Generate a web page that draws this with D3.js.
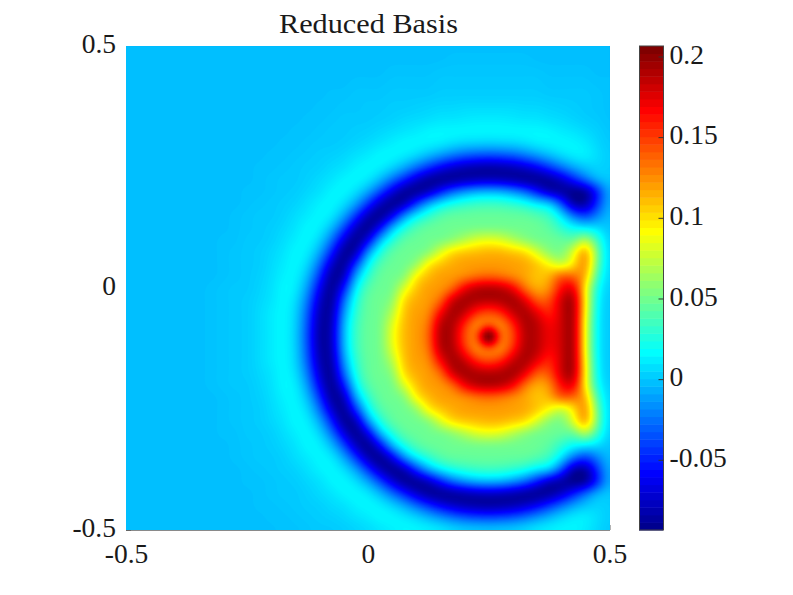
<!DOCTYPE html>
<html><head><meta charset="utf-8">
<script src="https://cdn.jsdelivr.net/npm/d3@7"></script>
<style>html,body{margin:0;padding:0;background:#fff}svg{display:block}</style>
</head><body><svg id="c" width="793" height="595"></svg>
<script>
const titleText = "Reduced Basis";
const xTicks = [-0.5, 0, 0.5];
const yTicks = [-0.5, 0, 0.5];
const barTicks = [-0.05, 0, 0.05, 0.1, 0.15, 0.2];
const valueRange = [-0.0935, 0.2065];
const backgroundReading = -0.003;
// Field values, in thousandths, on a 41 x 41 grid (top row first)
const heatRows = [
[0,0,0,0,0,0,0,0,0,0,0,0,0,0,0,0,0,0,0,0,0,0,0,0,0,0,0,0,0,0,0,0,0,0,0,0,0,0,0,0,0],
[0,0,0,0,0,0,0,0,0,0,0,0,0,0,0,0,0,0,0,0,0,0,0,0,0,0,0,1,1,1,1,1,1,1,0,0,0,0,0,0,0],
[0,0,0,0,0,0,0,0,0,0,0,0,0,0,0,0,0,0,0,0,0,0,1,1,1,1,2,2,2,2,2,2,2,2,2,1,1,1,1,0,0],
[0,0,0,0,0,0,0,0,0,0,0,0,0,0,0,0,0,0,0,1,1,1,2,2,2,2,3,3,3,3,3,3,3,3,3,2,2,2,2,1,1],
[0,0,0,0,0,0,0,0,0,0,0,0,0,0,0,0,0,1,1,2,2,2,3,3,3,3,4,4,4,4,4,4,4,4,4,3,3,3,3,2,1],
[0,0,0,0,0,0,0,0,0,0,0,0,0,0,0,0,1,1,2,2,3,3,4,4,5,6,7,7,8,8,8,8,8,7,7,6,5,4,3,2,1],
[0,0,0,0,0,0,0,0,0,0,0,0,0,0,0,1,1,2,3,3,3,4,5,7,8,9,11,11,12,13,13,13,12,11,11,9,8,6,4,3,1],
[0,0,0,0,0,0,0,0,0,0,0,0,0,0,1,1,2,3,3,4,5,7,9,11,13,16,17,17,17,17,17,17,17,17,17,16,13,11,8,5,2],
[0,0,0,0,0,0,0,0,0,0,0,0,0,1,1,2,3,3,4,6,8,11,14,17,17,16,14,10,7,6,5,6,7,10,14,16,17,16,13,7,3],
[0,0,0,0,0,0,0,0,0,0,0,0,1,1,2,3,4,5,7,10,13,17,17,14,8,-1,-11,-21,-29,-33,-35,-33,-29,-21,-11,-1,8,14,15,9,4],
[0,0,0,0,0,0,0,0,0,0,0,1,1,2,3,4,5,8,10,15,17,15,7,-6,-24,-42,-59,-71,-79,-83,-85,-83,-79,-71,-59,-42,-24,-8,2,6,4],
[0,0,0,0,0,0,0,0,0,0,0,1,2,3,3,5,8,11,16,17,13,-1,-23,-47,-71,-87,-91,-89,-84,-80,-78,-80,-84,-89,-91,-87,-73,-50,-25,-3,3],
[0,0,0,0,0,0,0,0,0,0,1,1,2,3,4,7,10,16,17,10,-7,-35,-66,-88,-90,-78,-52,-28,-14,-5,-3,-5,-14,-28,-52,-78,-86,-93,-88,-48,-3],
[0,0,0,0,0,0,0,0,0,0,1,2,3,4,6,10,15,17,10,-9,-42,-76,-91,-80,-42,-8,13,25,31,35,36,35,31,25,13,5,-33,-82,-85,-42,-3],
[0,0,0,0,0,0,0,0,0,1,2,3,3,5,9,13,17,13,-7,-42,-79,-91,-64,-16,14,31,43,48,49,50,50,50,49,48,43,35,12,-22,-38,-18,0],
[0,0,0,0,0,0,0,0,0,1,2,3,4,7,11,17,15,-1,-35,-75,-91,-58,-5,25,42,49,51,52,52,53,53,53,52,52,51,46,32,20,14,9,1],
[0,0,0,0,0,0,0,0,1,1,3,3,5,9,14,17,7,-23,-66,-91,-64,-5,27,46,50,52,53,60,72,84,88,84,72,60,53,52,50,48,72,36,3],
[0,0,0,0,0,0,0,0,1,2,3,4,7,11,17,14,-6,-47,-88,-80,-16,25,46,51,52,58,84,105,112,115,118,117,112,105,82,60,55,85,125,52,4],
[0,0,0,0,0,0,0,0,1,2,3,4,8,13,17,8,-24,-71,-90,-42,14,42,50,52,62,98,112,120,124,125,125,125,124,121,112,95,78,100,130,50,5],
[0,0,0,0,0,0,0,0,1,2,3,5,9,15,16,-1,-42,-87,-78,-8,31,49,52,58,98,115,124,125,129,136,140,136,129,122,112,118,145,140,118,38,5],
[0,0,0,0,0,0,0,1,2,3,3,6,10,17,14,-11,-59,-91,-52,13,43,51,53,84,112,124,126,140,175,192,196,192,175,138,120,128,168,178,98,25,4],
[0,0,0,0,0,0,0,1,2,3,4,7,11,17,10,-21,-71,-89,-28,25,48,52,60,105,120,125,140,186,200,196,194,196,200,180,145,148,185,198,98,20,3],
[0,0,0,0,0,0,0,1,2,3,4,8,13,17,7,-29,-79,-84,-14,31,49,52,72,112,124,129,170,200,188,160,150,160,188,198,178,160,185,200,95,18,3],
[0,0,0,0,0,0,0,1,2,3,4,8,13,17,6,-33,-83,-80,-5,35,50,53,84,115,125,136,192,196,160,128,140,128,160,196,192,172,185,200,90,17,3],
[0,0,0,0,0,0,0,1,2,3,4,8,13,17,5,-35,-85,-78,-3,36,50,53,88,116,125,140,196,194,150,140,250,140,150,194,192,175,185,200,90,17,3],
[0,0,0,0,0,0,0,1,2,3,4,8,13,17,6,-33,-83,-80,-5,35,50,53,84,115,125,136,192,196,160,128,140,128,160,196,192,172,185,200,90,17,3],
[0,0,0,0,0,0,0,1,2,3,4,8,13,17,7,-29,-79,-84,-14,31,49,52,72,112,124,129,170,200,188,160,150,160,188,198,178,160,185,200,95,18,3],
[0,0,0,0,0,0,0,1,2,3,4,7,11,17,10,-21,-71,-89,-28,25,48,52,60,105,120,125,140,186,200,196,194,196,200,180,145,148,185,198,98,20,3],
[0,0,0,0,0,0,0,1,2,3,3,6,10,17,14,-11,-59,-91,-52,13,43,51,53,84,112,124,126,140,175,192,196,192,175,138,120,128,168,178,98,25,4],
[0,0,0,0,0,0,0,0,1,2,3,5,9,15,16,-1,-42,-87,-78,-8,31,49,52,58,98,115,124,125,129,136,140,136,129,122,112,118,145,140,118,38,5],
[0,0,0,0,0,0,0,0,1,2,3,4,8,13,17,8,-24,-71,-90,-42,14,42,50,52,62,98,112,120,124,125,125,125,124,121,112,95,78,100,130,50,5],
[0,0,0,0,0,0,0,0,1,2,3,4,7,11,17,14,-6,-47,-88,-80,-16,25,46,51,52,58,84,105,112,115,118,117,112,105,82,60,55,85,125,52,4],
[0,0,0,0,0,0,0,0,1,1,3,3,5,9,14,17,7,-23,-66,-91,-64,-5,27,46,50,52,53,60,72,84,88,84,72,60,53,52,50,48,72,36,3],
[0,0,0,0,0,0,0,0,0,1,2,3,4,7,11,17,15,-1,-35,-75,-91,-58,-5,25,42,49,51,52,52,53,53,53,52,52,51,46,32,20,14,9,1],
[0,0,0,0,0,0,0,0,0,1,2,3,3,5,9,13,17,13,-7,-42,-79,-91,-64,-16,14,31,43,48,49,50,50,50,49,48,43,35,12,-22,-38,-18,0],
[0,0,0,0,0,0,0,0,0,0,1,2,3,4,6,10,15,17,10,-9,-42,-76,-91,-80,-42,-8,13,25,31,35,36,35,31,25,13,5,-33,-82,-85,-42,-3],
[0,0,0,0,0,0,0,0,0,0,1,1,2,3,4,7,10,16,17,10,-7,-35,-66,-88,-90,-78,-52,-28,-14,-5,-3,-5,-14,-28,-52,-78,-86,-93,-88,-48,-3],
[0,0,0,0,0,0,0,0,0,0,0,1,2,3,3,5,8,11,16,17,13,-1,-23,-47,-71,-87,-91,-89,-84,-80,-78,-80,-84,-89,-91,-87,-73,-50,-25,-3,3],
[0,0,0,0,0,0,0,0,0,0,0,1,1,2,3,4,5,8,10,15,17,15,7,-6,-24,-42,-59,-71,-79,-83,-85,-83,-79,-71,-59,-42,-24,-8,2,6,4],
[0,0,0,0,0,0,0,0,0,0,0,0,1,1,2,3,4,5,7,10,13,17,17,14,8,-1,-11,-21,-29,-33,-35,-33,-29,-21,-11,-1,8,14,15,9,4],
[0,0,0,0,0,0,0,0,0,0,0,0,0,1,1,2,3,3,4,6,8,11,14,17,17,16,14,10,7,6,5,6,7,10,14,16,17,16,13,7,3]
];
const jetPositions = [0, 0.111, 0.365, 0.619, 0.873, 1];
const jetColors = ["#00008f", "#0000ff", "#00ffff", "#ffff00", "#ff0000", "#800000"];

const svg = d3.select("#c");
const font = "'Liberation Serif','DejaVu Serif',serif";
const x = d3.scaleLinear([-0.5, 0.5], [126, 609.5]);
const y = d3.scaleLinear([-0.5, 0.5], [530, 46.5]);
const bar = d3.scaleLinear(valueRange, [530, 46]);
const jet = d3.scaleLinear().domain(jetPositions.map(t => valueRange[0] + t * (valueRange[1] - valueRange[0]))).range(jetColors).clamp(true);

// Display resampling of the read grid (like shading interp), Catmull-Rom by 4, then a light blur
const cols = heatRows[0].length, rows = heatRows.length, up = 4;
const N = (cols - 1) * up + 1, M = (rows - 1) * up + 1;
const cr = (a, b, c, d, t) => 0.5 * (2 * b + (c - a) * t + (2 * a - 5 * b + 4 * c - d) * t * t + (3 * b - a - 3 * c + d) * t * t * t);
const at = (i, j) => heatRows[Math.max(0, Math.min(rows - 1, j))][Math.max(0, Math.min(cols - 1, i))] / 1000 + backgroundReading;
const flat = new Float64Array(N * M);
for (let j = 0; j < M; j++) {
  const J = Math.floor(j / up), v = j / up - J;
  for (let i = 0; i < N; i++) {
    const I = Math.floor(i / up), u = i / up - I;
    const r = [-1, 0, 1, 2].map(k => cr(at(I - 1, J + k), at(I, J + k), at(I + 1, J + k), at(I + 2, J + k), u));
    flat[j * N + i] = cr(r[0], r[1], r[2], r[3], v);
  }
}
d3.blur2({ data: flat, width: N, height: M }, 1);
const gx = d3.scaleLinear([0.5, N - 0.5], x.range());
const gy = d3.scaleLinear([0.5, M - 0.5], y.range().slice().reverse());
const path = d3.geoPath(d3.geoTransform({ point(a, b) { this.stream.point(gx(a), gy(b)); } }));
const levelStep = 0.001;
const levels = d3.range(valueRange[0] - 0.01, valueRange[1] + 0.01, levelStep);
const contours = d3.contours().size([N, M]).thresholds(levels)(Array.from(flat));

// Axes sit under the field, so only the end ticks peek out
function styleAxis(g) {
  g.selectAll("path.domain").attr("stroke", "#8a8a8a").attr("stroke-width", 1);
  g.selectAll(".tick line").attr("stroke", "#666");
  g.selectAll("text").attr("fill", "#1a1a1a").style("font-family", font).style("font-size", "27.5px");
}
const fmt = d => String(d);
svg.append("g").attr("transform", "translate(0,530)")
  .call(d3.axisBottom(x).tickValues(xTicks).tickFormat(fmt).tickSizeInner(-5).tickSizeOuter(0).tickPadding(13)).call(styleAxis);
const leftAxis = svg.append("g").attr("transform", "translate(126,0)")
  .call(d3.axisLeft(y).tickValues(yTicks).tickFormat(fmt).tickSizeInner(-5).tickSizeOuter(0).tickPadding(10)).call(styleAxis);
leftAxis.selectAll("text").attr("y", -2.5);

svg.append("clipPath").attr("id", "plot").append("rect")
  .attr("x", x(-0.5)).attr("y", y(0.5)).attr("width", x(0.5) - x(-0.5)).attr("height", y(-0.5) - y(0.5));
const field = svg.append("g").attr("clip-path", "url(#plot)");
field.selectAll("path").data(contours).join("path")
  .attr("d", path).attr("fill", d => jet(d.value + levelStep / 2));

// Colour bar, 64 levels
const barLevels = d3.range(64);
const barBand = d3.scaleBand(barLevels, [530, 46]);
svg.append("g").selectAll("rect").data(barLevels).join("rect")
  .attr("x", 639).attr("width", 24)
  .attr("y", d => barBand(d)).attr("height", barBand.bandwidth() + 0.5)
  .attr("fill", d => jet(valueRange[0] + (d / 63) * (valueRange[1] - valueRange[0])));
svg.append("rect").attr("x", 639.5).attr("y", 46).attr("width", 24).attr("height", 484)
  .attr("fill", "none").attr("stroke", "#444").attr("stroke-width", 1);
const barAxis = svg.append("g").attr("transform", "translate(663.5,0)")
  .call(d3.axisRight(bar).tickValues(barTicks).tickFormat(fmt).tickSizeInner(-5).tickSizeOuter(0).tickPadding(6)).call(styleAxis);
barAxis.select("path.domain").remove();
barAxis.selectAll(".tick line").attr("stroke", "#333");
barAxis.selectAll("text").attr("y", -2);

svg.append("text").attr("x", 368.5).attr("y", 33).attr("text-anchor", "middle")
  .attr("textLength", 179).attr("lengthAdjust", "spacingAndGlyphs")
  .attr("fill", "#1a1a1a").style("font-family", font).style("font-size", "27px").text(titleText);
</script></body></html>
